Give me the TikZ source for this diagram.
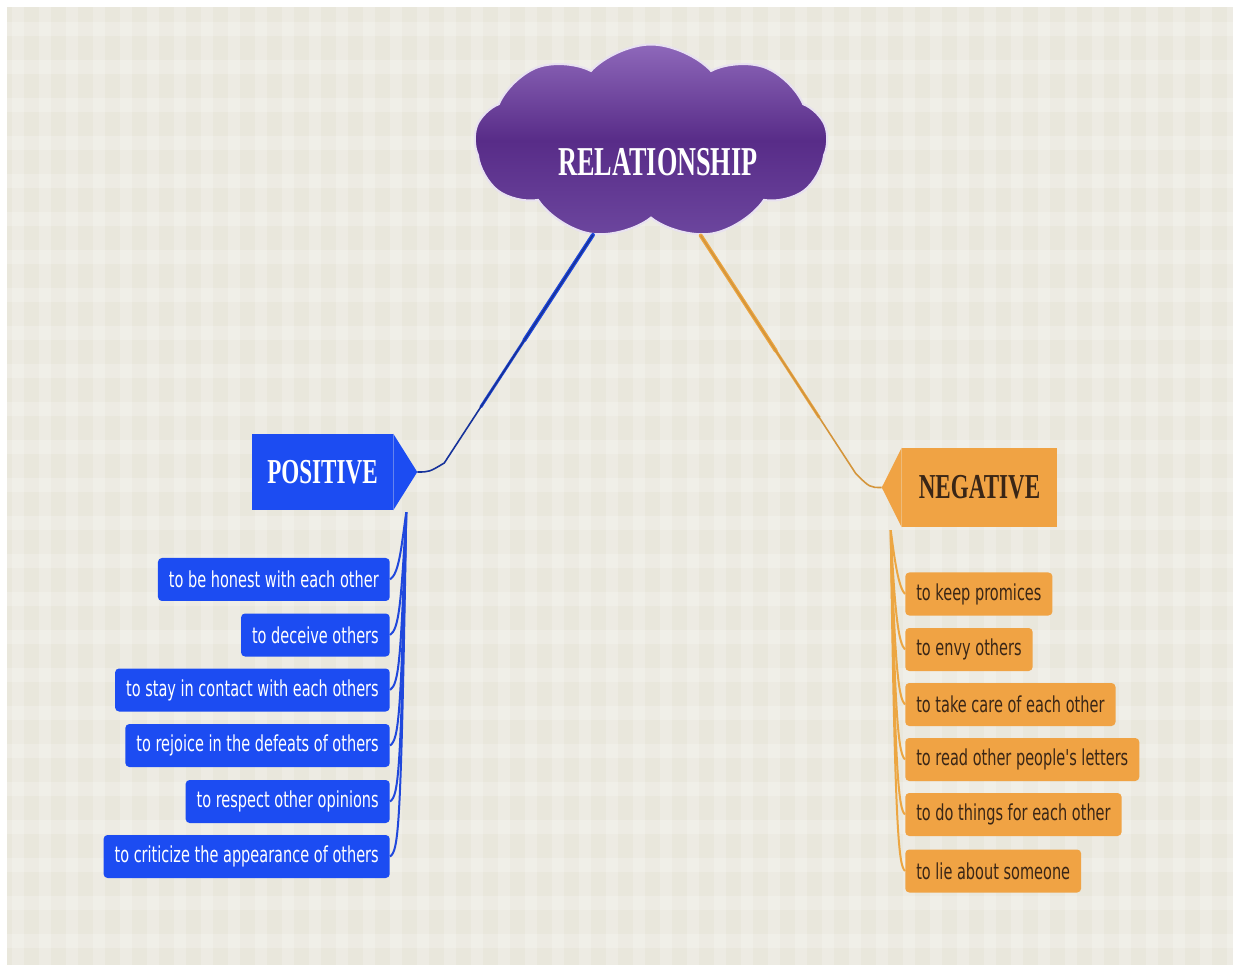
\documentclass[tikz,border=0pt]{standalone}
\usepackage{fontspec}
\usepackage{graphicx}
\setmainfont{Liberation Serif}
\newfontfamily\kidfont{DejaVu Sans}
\usetikzlibrary{shapes.symbols,calc}
\definecolor{bgbeige}{RGB}{233,231,220}
\definecolor{pblue}{RGB}{28,76,242}
\definecolor{porange}{RGB}{240,163,68}
\definecolor{lblue}{RGB}{32,72,220}
\definecolor{lorange}{RGB}{236,166,66}
\definecolor{ntext}{RGB}{58,38,22}
\definecolor{cltop}{RGB}{142,104,186}
\definecolor{clmid}{RGB}{88,44,136}
\definecolor{clbot}{RGB}{108,70,158}
\newcommand\hsq[1]{\scalebox{0.66}[1]{#1}}
\begin{document}
\begin{tikzpicture}[x=0.75pt,y=-0.75pt,
  kid/.style={rounded corners=3pt, minimum height=32.25pt, inner xsep=8.25pt, inner ysep=0pt,
    font=\kidfont\fontsize{16.5pt}{18pt}\selectfont},
  poskid/.style={kid, fill=pblue, anchor=east, text=white},
  negkid/.style={kid, fill=porange, anchor=west, text=ntext},
  head/.style={minimum height=57pt, inner sep=0pt, font=\bfseries\fontsize{26.25pt}{28pt}\selectfont},
  pline/.style={draw=lblue, line width=1.5pt},
  nline/.style={draw=lorange, line width=1.5pt},
]
\useasboundingbox (0,0) rectangle (1239,969);
\fill[white] (0,0) rectangle (1239,969);
\fill[bgbeige] (7,7) rectangle (1233,965);
\begin{scope}
\clip (7,7) rectangle (1233,965);
\foreach \i in {0,...,46} \fill[white,opacity=0.2] ({12+27*\i},7) rectangle ({24+27*\i},965);
\foreach \j in {0,...,25} \fill[white,opacity=0.2] (7,{22+38*\j}) rectangle (1233,{36+38*\j});
\end{scope}

% central cloud
\node[cloud, cloud puffs=9, cloud puff arc=95, aspect=1.8,
  minimum width=264.75pt, minimum height=146.25pt,
  top color=cltop, bottom color=clbot, middle color=clmid,
  draw=white!80!cltop, line width=1.5pt] (rel) at (651,142) {};
\node[text=white, font=\bfseries\fontsize{30.75pt}{32pt}\selectfont] (reltxt) at (658,162) {\scalebox{0.64}[1]{RELATIONSHIP}};

% main heads
\node[head, fill=pblue, text=white, minimum width=105.75pt] (pos) at (322.5,472) {\hsq{POSITIVE}};
\coordinate (ptip) at ($(pos.east)+(24,0)$);
\fill[pblue] (pos.north east) -- (ptip) -- (pos.south east) -- cycle;

\node[head, fill=porange, text=ntext, minimum height=59.25pt, minimum width=116.25pt] (neg) at (979.5,487.5) {\hsq{NEGATIVE}};
\coordinate (ntip) at ($(neg.west)+(-20,0)$);
\fill[porange] (neg.north west) -- (ntip) -- (neg.south west) -- cycle;

% cloud to heads
\coordinate (pbend) at ($(ptip)+(27,-9)$);
\coordinate (nbend) at ($(ntip)+(-26,-14)$);
\draw[lblue, line width=3pt, shorten >=110pt, line cap=round] (rel.-122) -- (pbend);
\draw[lblue, line width=2.2pt, shorten >=50pt] (rel.-122) -- (pbend);
\draw[lblue!70!black, line width=1.2pt] (rel.-122) -- (pbend) .. controls ($(ptip)+(12,0)$) .. (ptip);
\draw[lorange, line width=3pt, shorten >=110pt, line cap=round] (rel.-62) -- (nbend);
\draw[lorange, line width=2.2pt, shorten >=50pt] (rel.-62) -- (nbend);
\draw[lorange!90!black, line width=1.2pt] (rel.-62) -- (nbend) .. controls ($(ntip)+(-12,0)$) .. (ntip);

% positive children
\node[poskid] (p1) at (390,579.5) {\hsq{to be honest with each other}};
\node[poskid] (p2) at (390,635) {\hsq{to deceive others}};
\node[poskid] (p3) at (390,690) {\hsq{to stay in contact with each others}};
\node[poskid] (p4) at (390,745.5) {\hsq{to rejoice in the defeats of others}};
\node[poskid] (p5) at (390,801.5) {\hsq{to respect other opinions}};
\node[poskid] (p6) at (390,856.5) {\hsq{to criticize the appearance of others}};

\coordinate (pstem) at ($(pos.south east)+(13,2)$);
\foreach \c in {p1,p2,p3,p4,p5,p6}
  \draw[pline] (pstem) .. controls ($(\c.east)+(11,-30)$) and ($(\c.east)+(9,-6)$) .. (\c.east);

% negative children
\node[negkid] (n1) at (905,594) {\hsq{to keep promices}};
\node[negkid] (n2) at (905,649.5) {\hsq{to envy others}};
\node[negkid] (n3) at (905,704.5) {\hsq{to take care of each other}};
\node[negkid] (n4) at (905,759.5) {\hsq{to read other people's letters}};
\node[negkid] (n5) at (905,814.5) {\hsq{to do things for each other}};
\node[negkid] (n6) at (905,871) {\hsq{to lie about someone}};

\coordinate (nstem) at ($(neg.south west)+(-11,3)$);
\foreach \c in {n1,n2,n3,n4,n5,n6}
  \draw[nline] (nstem) .. controls ($(\c.west)+(-10,-30)$) and ($(\c.west)+(-6,-6)$) .. (\c.west);
\end{tikzpicture}
\end{document}
